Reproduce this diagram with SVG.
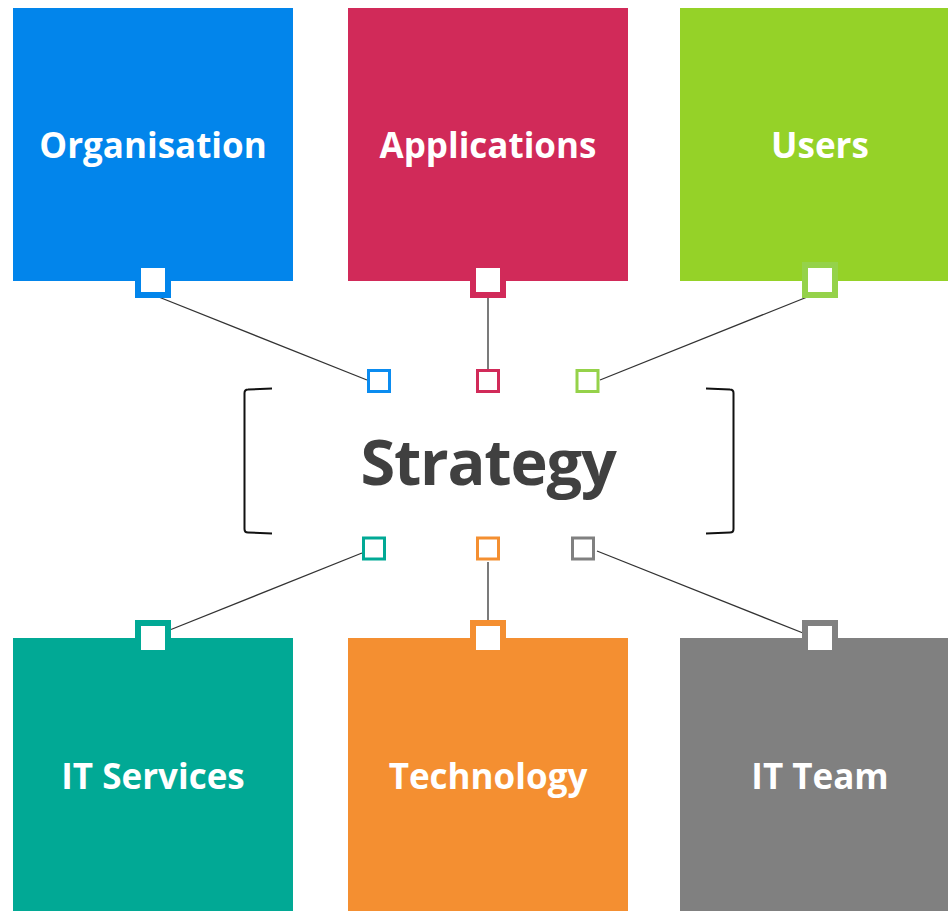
<svg xmlns="http://www.w3.org/2000/svg" width="948" height="911" viewBox="0 0 948 911">
<style>
.lbl{font-family:"Open Sans","Noto Sans","Liberation Sans",sans-serif;font-weight:bold;font-size:35px;fill:#ffffff;text-anchor:middle}
.big{stroke-width:6;fill:#ffffff}
.small{stroke-width:3;fill:#ffffff}
.conn{stroke:#333333;stroke-width:1.3;fill:none}
.br{stroke:#111111;stroke-width:2;fill:none;stroke-linejoin:round}
</style>
<rect x="0" y="0" width="948" height="911" fill="#ffffff"/>
<g id="connectors">
<line class="conn" x1="160" y1="297.5" x2="367" y2="380"/>
<line class="conn" x1="488" y1="298" x2="488" y2="369"/>
<line class="conn" x1="806" y1="297.5" x2="600" y2="380"/>
<line class="conn" x1="171" y1="629.5" x2="362" y2="553"/>
<line class="conn" x1="488" y1="562" x2="488" y2="620"/>
<line class="conn" x1="597" y1="551" x2="803" y2="633"/>
</g>
<g id="organisation">
<rect x="13" y="8" width="280" height="273" fill="#0285EB"/>
<text class="lbl" x="153" y="158">Organisation</text>
<rect class="big" x="138" y="265" width="30" height="30" stroke="#0285EB"/>
<rect class="small" x="368.5" y="370.5" width="21" height="21" stroke="#0B8CF0"/>
</g>
<g id="applications">
<rect x="348" y="8" width="280" height="273" fill="#D12A59"/>
<text class="lbl" x="488" y="158">Applications</text>
<rect class="big" x="473" y="265" width="30" height="30" stroke="#D12A59"/>
<rect class="small" x="477.5" y="370.5" width="21" height="21" stroke="#D12A59"/>
</g>
<g id="users">
<rect x="680" y="8" width="280" height="273" fill="#95D228"/>
<text class="lbl" x="820" y="158">Users</text>
<rect class="big" x="805" y="265" width="30" height="30" stroke="#95D24A"/>
<rect class="small" x="577" y="370.5" width="21" height="21" stroke="#95D24A"/>
</g>
<g id="strategy">
<path class="br" d="M272,388.5 L248,389.5 Q244.5,389.5 244.5,393 L244.5,529 Q244.5,532.5 248,532.5 L272,533.5"/>
<path class="br" d="M706,388.5 L730,389.5 Q733.5,389.5 733.5,393 L733.5,529 Q733.5,532.5 730,532.5 L706,533.5"/>
<text x="488" y="485" font-family="'Open Sans','Noto Sans','Liberation Sans',sans-serif" font-weight="bold" font-size="63" letter-spacing="-1.2" fill="#404040" text-anchor="middle">Strategy</text>
</g>
<g id="it-services">
<rect x="13" y="638" width="280" height="273" fill="#01A995"/>
<text class="lbl" x="153" y="789">IT Services</text>
<rect class="big" x="138" y="623" width="30" height="30" stroke="#01A995"/>
<rect class="small" x="363.5" y="538" width="21" height="21" stroke="#01A995"/>
</g>
<g id="technology">
<rect x="348" y="638" width="280" height="273" fill="#F48F31"/>
<text class="lbl" x="488" y="789">Technology</text>
<rect class="big" x="473" y="623" width="30" height="30" stroke="#F48F31"/>
<rect class="small" x="477.5" y="538" width="21" height="21" stroke="#F48F31"/>
</g>
<g id="it-team">
<rect x="680" y="638" width="280" height="273" fill="#808080"/>
<text class="lbl" x="820" y="789">IT Team</text>
<rect class="big" x="805" y="623" width="30" height="30" stroke="#808080"/>
<rect class="small" x="572.5" y="538" width="21" height="21" stroke="#808080"/>
</g>
</svg>
